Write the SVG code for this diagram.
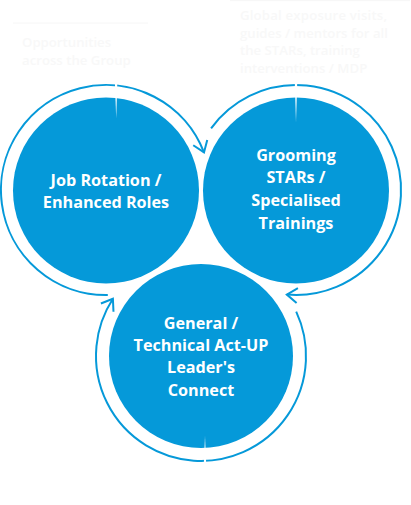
<svg xmlns="http://www.w3.org/2000/svg" width="411" height="505" viewBox="0 0 411 505">
<style>
.c{fill:#0599d9}
.arc{fill:none;stroke:#0599d9;stroke-width:2}
.t{font-family:"Open Sans","Liberation Sans",sans-serif;font-weight:700;font-size:16.2px;fill:#fff;text-anchor:middle}
.f{font-family:"Open Sans","Liberation Sans",sans-serif;font-weight:600;font-size:13.2px;fill:#f8f8f8}
.w{fill:#fff}
</style>
<defs>
<marker id="ah" markerUnits="userSpaceOnUse" markerWidth="30" markerHeight="30" refX="0" refY="0" viewBox="-15 -15 30 30" orient="auto" overflow="visible">
<path d="M-10.5,-7.5 L0,0 L-10.5,7.5" fill="none" stroke="#0599d9" stroke-width="2"/>
</marker>
</defs>
<rect width="411" height="505" fill="#fff"/>
<g id="faint">
<line x1="13" y1="23" x2="148" y2="23" stroke="#f6f6f6" stroke-width="1"/>
<line x1="230" y1="0.7" x2="410" y2="0.7" stroke="#f6f6f6" stroke-width="1"/>
<text class="f" x="22" y="47" font-size="13.6">Opportunities</text>
<text class="f" x="22" y="65" font-size="13.6">across the Group</text>
<text class="f" x="240" y="20" textLength="147">Global exposure visits,</text>
<text class="f" x="240" y="37.5">guides / mentors for all</text>
<text class="f" x="240" y="55">the STARs, training</text>
<text class="f" x="240" y="72.5">interventions / MDP</text>
</g>
<g id="connectors">
<path class="arc" d="M107.8,295 A105,105 0 1 1 204.0,152.4" marker-end="url(#ah)"/>
<path class="arc" d="M211.1,128.3 A105,105 0 1 1 286.8,294.6" marker-end="url(#ah)"/>
<path class="arc" d="M296.2,311.6 A105,105 0 1 1 112.9,298.8" marker-end="url(#ah)"/>
</g>
<g id="node-job-rotation">
<circle class="c" cx="106" cy="190.5" r="93"/>
<text class="t" x="106" y="186">Job Rotation /</text>
<text class="t" x="106" y="208">Enhanced Roles</text>
</g>
<g id="node-grooming">
<circle class="c" cx="296" cy="190.5" r="93"/>
<text class="t" x="296" y="160.7">Grooming</text>
<text class="t" x="296" y="183.3">STARs /</text>
<text class="t" x="296" y="206.3">Specialised</text>
<text class="t" x="296" y="229.3">Trainings</text>
</g>
<g id="node-general">
<circle cx="201" cy="356" r="96" fill="#fff"/>
<circle class="c" cx="201" cy="356" r="92"/>
<text class="t" x="201" y="329">General /</text>
<text class="t" x="201" y="350.7">Technical Act-UP</text>
<text class="t" x="201" y="373.3">Leader's</text>
<text class="t" x="201" y="396">Connect</text>
</g>
<g id="ticks">
<polygon class="w" points="114.8,80 117.4,80 116.2,118"/>
<polygon class="w" points="294.7,80 297.3,80 296,122"/>
<polygon class="w" points="203.7,467 206.3,467 205,436"/>
</g>
</svg>
